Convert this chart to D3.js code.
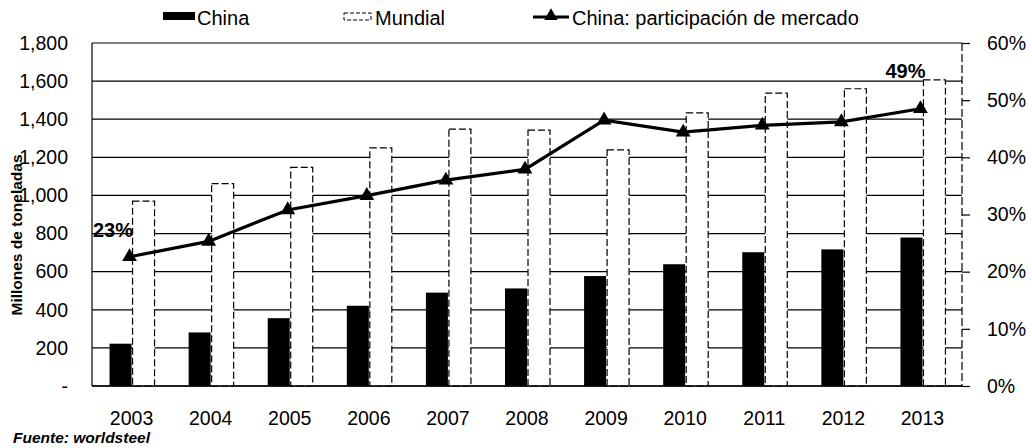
<!DOCTYPE html>
<html>
<head>
<meta charset="utf-8">
<script src="https://cdn.jsdelivr.net/npm/d3@7"></script>
<style>
  body { margin: 0; background: #fff; }
  svg text { font-family: "Liberation Sans", Arial, sans-serif; fill: #000; }
</style>
</head>
<body>
<div class="chart"></div>
<script>
var width = 1032
var height = 448

// data
var years = ["2003","2004","2005","2006","2007","2008","2009","2010","2011","2012","2013"]
var china = [222, 281, 356, 421, 490, 512, 577, 639, 702, 717, 779]
var mundial = [970, 1062, 1147, 1250, 1348, 1343, 1239, 1433, 1537, 1560, 1607]
var share = [22.6, 25.3, 30.8, 33.3, 36.0, 37.9, 46.5, 44.4, 45.6, 46.2, 48.5]
var leftTicks = [0, 200, 400, 600, 800, 1000, 1200, 1400, 1600, 1800]
var rightTicks = [0, 10, 20, 30, 40, 50, 60]

var margin = {top: 43, right: 70, bottom: 62, left: 92}
var plotW = width - margin.left - margin.right
var plotH = height - margin.top - margin.bottom
var fs = "19.5px"

var svg = d3.select('.chart')
  .append('svg')
  .attr("width", width)
  .attr("height", height)

var g = svg.append("g").attr("transform", "translate(" + margin.left + "," + margin.top + ")")

var x = d3.scaleBand().domain(years).range([0, plotW])
var y = d3.scaleLinear().domain([0, 1800]).range([plotH, 0])
var y2 = d3.scaleLinear().domain([0, 60]).range([plotH, 0])
var barW = 22

// gridlines
g.selectAll("line.grid")
  .data(leftTicks)
  .enter()
  .append("line")
  .attr("class", "grid")
  .attr("x1", 0).attr("x2", plotW)
  .attr("y1", d => y(d)).attr("y2", d => y(d))
  .attr("stroke", "#000").attr("stroke-width", 1.2)

// mundial bars: white with dashed outline
g.selectAll("rect.mundial")
  .data(mundial)
  .enter()
  .append("rect")
  .attr("class", "mundial")
  .attr("x", (d, i) => x(years[i]) + x.bandwidth() / 2 + 1)
  .attr("y", d => y(d))
  .attr("width", barW)
  .attr("height", d => plotH - y(d))
  .attr("fill", "#fff")
  .attr("stroke", "#000")
  .attr("stroke-width", 1.2)
  .attr("stroke-dasharray", "7,3")

// china bars
g.selectAll("rect.china")
  .data(china)
  .enter()
  .append("rect")
  .attr("class", "china")
  .attr("x", (d, i) => x(years[i]) + x.bandwidth() / 2 - barW)
  .attr("y", d => y(d))
  .attr("width", barW)
  .attr("height", d => plotH - y(d))
  .attr("fill", "#000")

// frame
g.append("line").attr("x1", 0).attr("x2", 0).attr("y1", 0).attr("y2", plotH)
  .attr("stroke", "#000").attr("stroke-width", 1.2)
g.append("line").attr("x1", 0).attr("x2", plotW).attr("y1", plotH).attr("y2", plotH)
  .attr("stroke", "#000").attr("stroke-width", 1.5)
g.append("line").attr("x1", plotW).attr("x2", plotW).attr("y1", 0).attr("y2", plotH)
  .attr("stroke", "#000").attr("stroke-width", 1.2).attr("stroke-dasharray", "8,3")

// left axis
var leftAxis = d3.axisLeft(y).tickValues(leftTicks).tickSize(0).tickPadding(24)
  .tickFormat(d => d === 0 ? "-" : d3.format(",")(d))
var la = g.append("g").call(leftAxis)
la.select(".domain").remove()
la.selectAll("text").style("font-size", fs)

// right axis
var rightAxis = d3.axisRight(y2).tickValues(rightTicks).tickSize(8).tickPadding(17)
  .tickFormat(d => d + "%")
var ra = g.append("g").attr("transform", "translate(" + plotW + ",0)").call(rightAxis)
ra.select(".domain").remove()
ra.selectAll("line").attr("stroke", "#000").attr("stroke-width", 1.2)
ra.selectAll("text").style("font-size", fs)

// bottom axis
var bottomAxis = d3.axisBottom(x).tickSize(0).tickPadding(25)
var ba = g.append("g").attr("transform", "translate(0," + plotH + ")").call(bottomAxis)
ba.select(".domain").remove()
ba.selectAll("text").style("font-size", fs)

// share line
var line = d3.line()
  .x((d, i) => x(years[i]) + x.bandwidth() / 2 - 2)
  .y(d => y2(d))
g.append("path")
  .datum(share)
  .attr("d", line)
  .attr("fill", "none")
  .attr("stroke", "#000")
  .attr("stroke-width", 3.2)

g.selectAll("path.tri")
  .data(share)
  .enter()
  .append("path")
  .attr("class", "tri")
  .attr("d", d3.symbol().type(d3.symbolTriangle).size(95))
  .attr("transform", (d, i) => "translate(" + (x(years[i]) + x.bandwidth() / 2 - 2) + "," + y2(d) + ")")
  .attr("fill", "#000")

// data labels
g.append("text")
  .attr("x", x(years[0]) + 1)
  .attr("y", y2(share[0]) - 20)
  .style("font-size", "20px").style("font-weight", "bold")
  .text("23%")
g.append("text")
  .attr("x", x(years[10]) + x.bandwidth() / 2 - 17)
  .attr("y", y2(share[10]) - 31)
  .attr("text-anchor", "middle")
  .style("font-size", "20px").style("font-weight", "bold")
  .text("49%")

// y title
svg.append("text")
  .attr("transform", "translate(22,235) rotate(-90)")
  .attr("text-anchor", "middle")
  .style("font-size", "15.5px").style("font-weight", "bold")
  .text("Millones de toneladas")

// legend
var lg = svg.append("g")
lg.append("rect").attr("x", 163).attr("y", 12).attr("width", 32).attr("height", 8).attr("fill", "#000")
lg.append("text").attr("x", 197).attr("y", 25).style("font-size", "20px").text("China")
lg.append("rect").attr("x", 344).attr("y", 13).attr("width", 27).attr("height", 7)
  .attr("fill", "#fff").attr("stroke", "#000").attr("stroke-width", 1).attr("stroke-dasharray", "4,2")
lg.append("text").attr("x", 375).attr("y", 25).style("font-size", "20px").text("Mundial")
lg.append("line").attr("x1", 533).attr("x2", 569).attr("y1", 17).attr("y2", 17)
  .attr("stroke", "#000").attr("stroke-width", 3)
lg.append("path").attr("d", d3.symbol().type(d3.symbolTriangle).size(80))
  .attr("transform", "translate(551,16)")
lg.append("text").attr("x", 572).attr("y", 25).style("font-size", "20px").text("China: participación de mercado")

// source
svg.append("text")
  .attr("x", 13).attr("y", 443)
  .style("font-size", "15.5px").style("font-weight", "bold").style("font-style", "italic")
  .text("Fuente: worldsteel")
</script>
</body>
</html>
